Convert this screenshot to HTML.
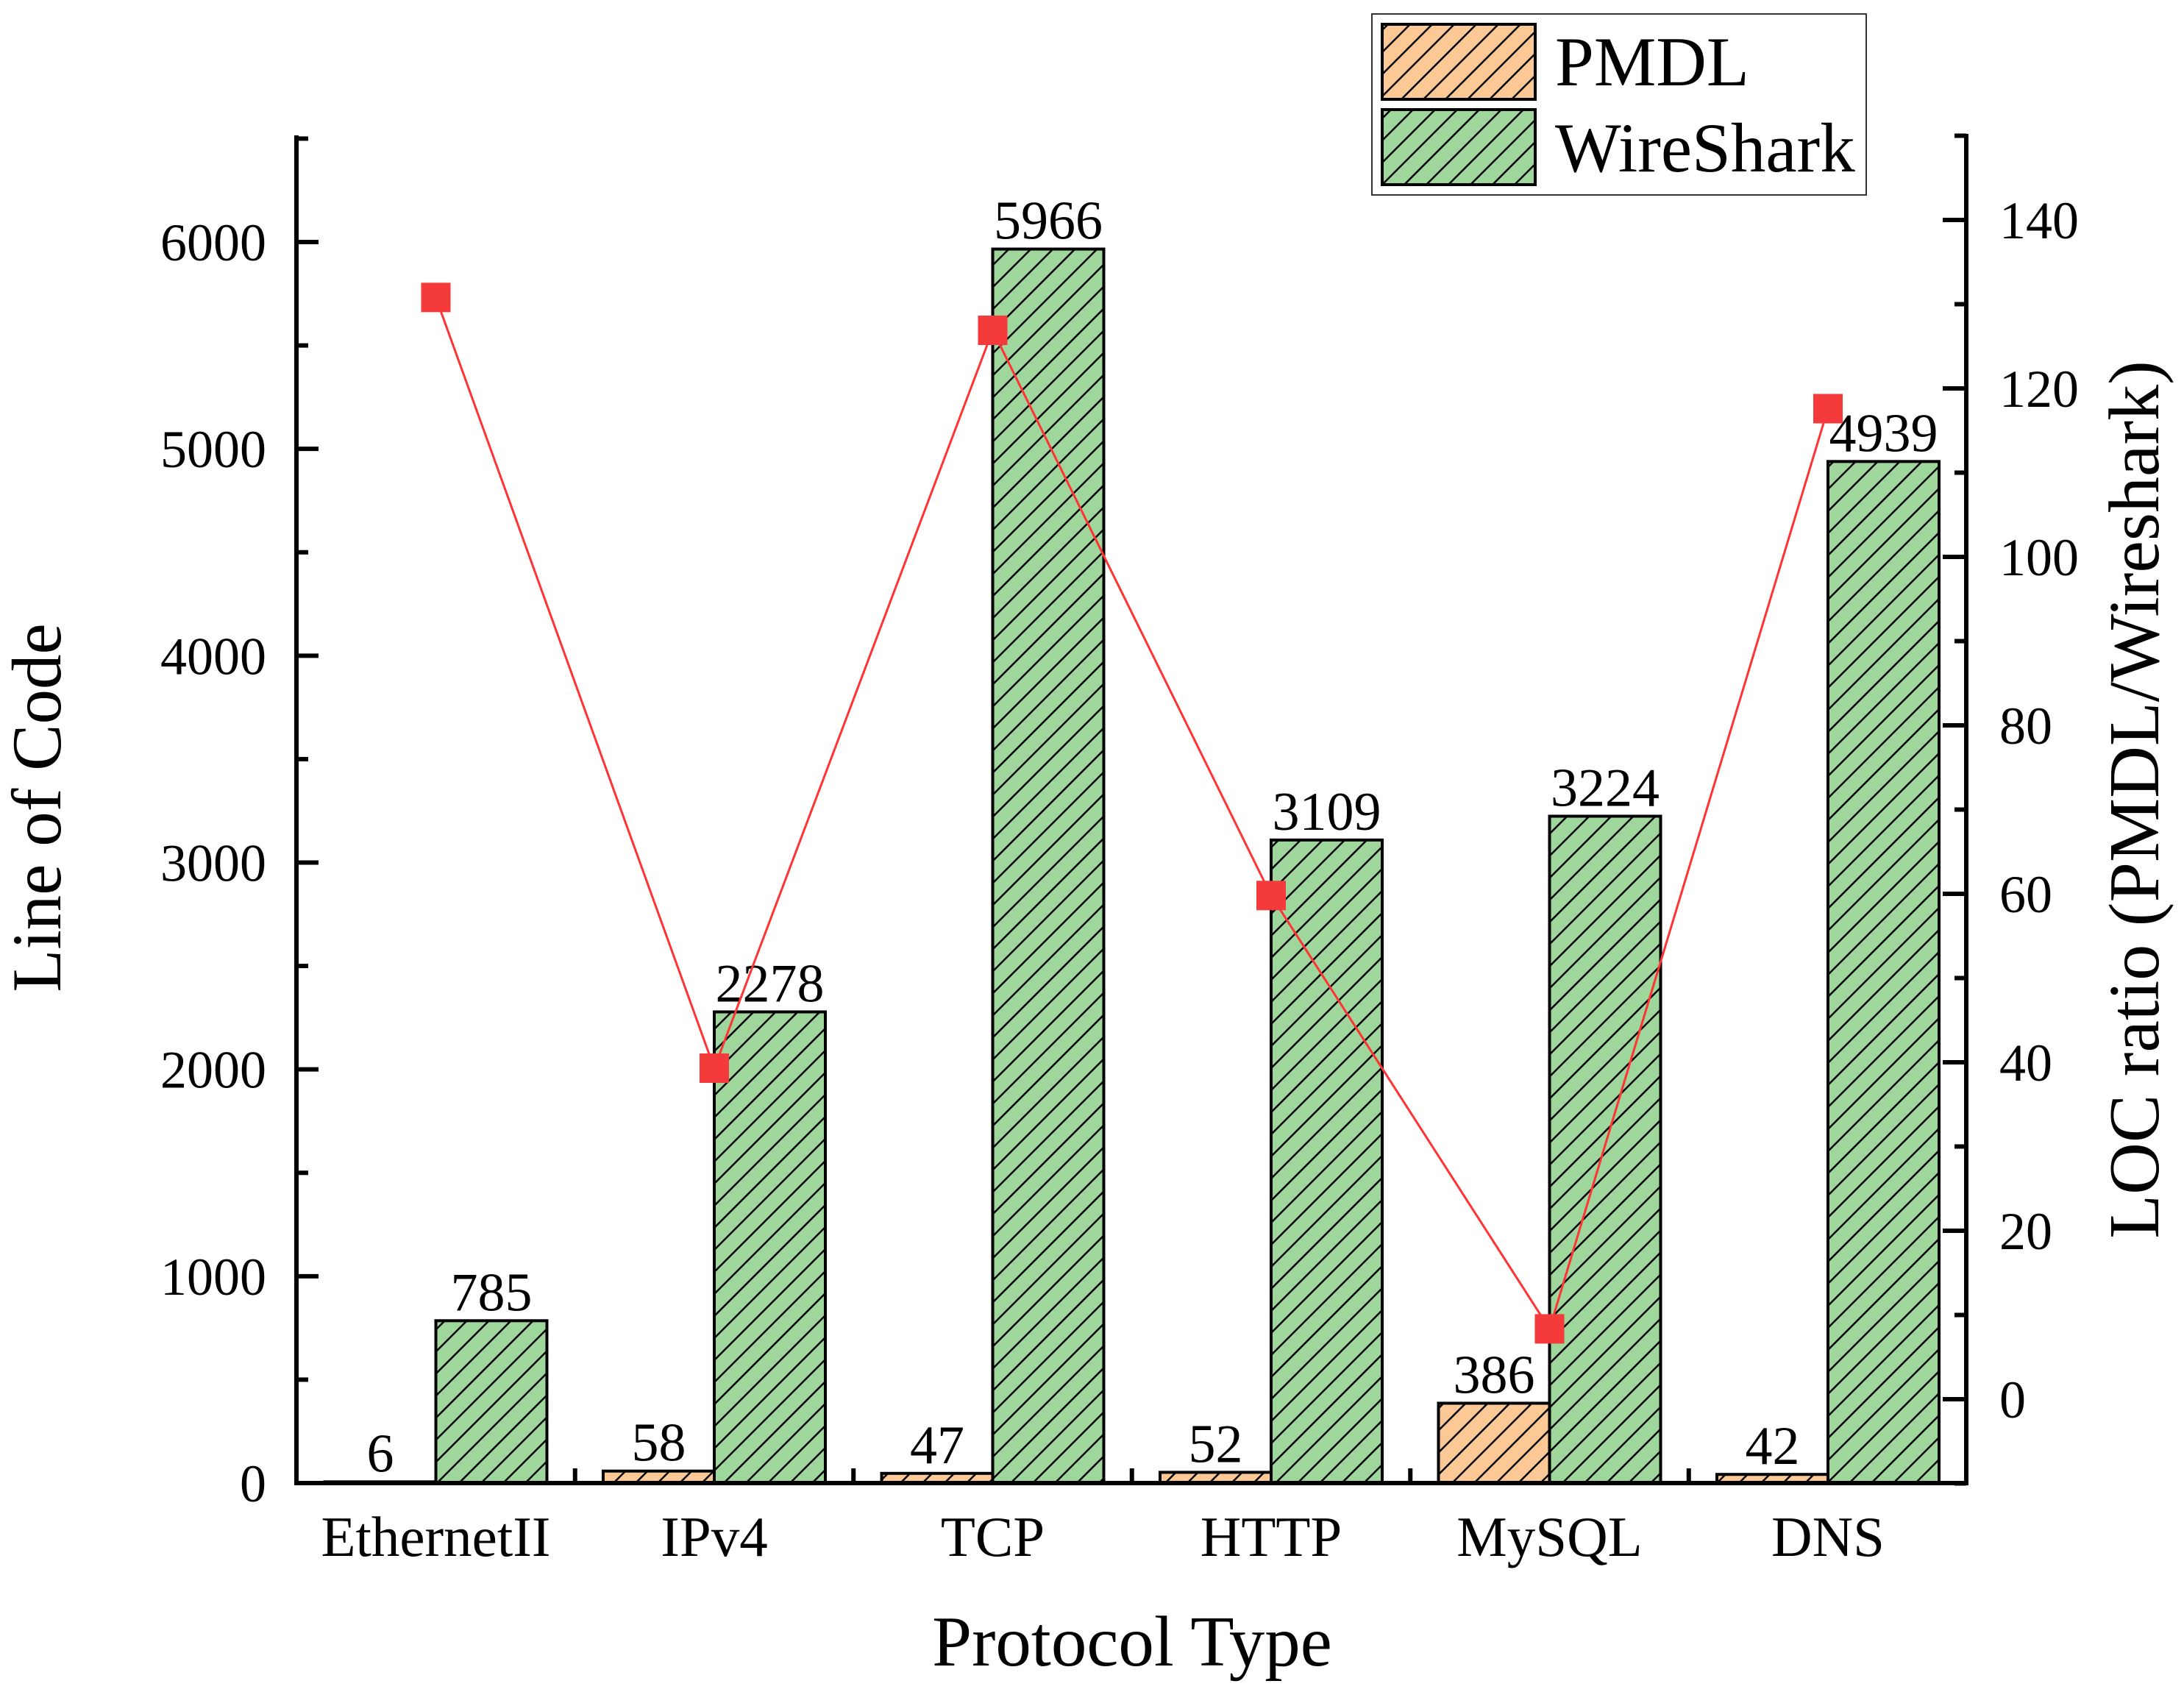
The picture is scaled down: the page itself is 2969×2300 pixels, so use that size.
<!DOCTYPE html>
<html><head><meta charset="utf-8"><style>
html,body{margin:0;padding:0;background:#fff;}
svg{display:block;font-family:"Liberation Serif",serif;}
</style></head><body>
<svg id="chart" width="2969" height="2300" viewBox="0 0 2969 2300" xmlns="http://www.w3.org/2000/svg">
<defs>
<pattern id="hatchO" patternUnits="userSpaceOnUse" width="30" height="30">
<rect width="30" height="30" fill="#FCC896"/>
<path d="M-8,38 L38,-8 M-23,23 L23,-23 M7,53 L53,7" stroke="#000" stroke-width="2.5"/>
</pattern>
<pattern id="hatchG" patternUnits="userSpaceOnUse" width="30" height="30">
<rect width="30" height="30" fill="#9ED69C"/>
<path d="M-8,38 L38,-8 M-23,23 L23,-23 M7,53 L53,7" stroke="#000" stroke-width="2.5"/>
</pattern>
</defs>
<g id="bars"></g>
<g id="line"></g>
<g id="axes"></g>
<text x="1539" y="2264" font-size="97" text-anchor="middle">Protocol Type</text>
<text transform="translate(82,1098) rotate(-90)" font-size="95" text-anchor="middle">Line of Code</text>
<text transform="translate(2934,1087) rotate(-90)" font-size="98" text-anchor="middle">LOC ratio (PMDL/Wireshark)</text>
<g>
<rect x="1865" y="19" width="672" height="246" fill="#fff" stroke="#333" stroke-width="2"/>
<rect x="1879" y="33" width="208" height="102" fill="url(#hatchO)" stroke="#000" stroke-width="4"/>
<rect x="1879" y="149" width="208" height="102" fill="url(#hatchG)" stroke="#000" stroke-width="4"/>
<text x="2114" y="116" font-size="95">PMDL</text>
<text x="2114" y="233" font-size="95">WireShark</text>
</g>
</svg>
<script>
const categories = ["EthernetII","IPv4","TCP","HTTP","MySQL","DNS"];
const pmdlValues = [6,58,47,52,386,42];
const wiresharkValues = [785,2278,5966,3109,3224,4939];
const ratioValues = [130.8,39.3,126.9,59.8,8.35,117.6];
const leftTicks = [0,1000,2000,3000,4000,5000,6000];
const rightTicks = [0,20,40,60,80,100,120,140];

const NS="http://www.w3.org/2000/svg";
const X0=403, X1=2673, Y0=2016, YTOP=184;
const catStart=592.5, catStep=378.5, barW=151;
function xC(i){return catStart+i*catStep;}
function yL(v){return Y0 - v*(Y0-329)/6000;}
function yR(v){return 1902 - v*(1902-299)/140;}
function mk(tag,attrs,parent){const e=document.createElementNS(NS,tag);for(const k in attrs)e.setAttribute(k,attrs[k]);parent.appendChild(e);return e;}

const bars=document.getElementById('bars');
categories.forEach((c,i)=>{
  const cx=xC(i);
  const yo=yL(pmdlValues[i]);
  const b1=mk('rect',{x:cx-barW,y:yo,width:barW,height:Y0-yo,fill:'url(#hatchO)',stroke:'#000','stroke-width':4},bars);
  
  
  const yg=yL(wiresharkValues[i]);
  const b2=mk('rect',{x:cx,y:yg,width:barW,height:Y0-yg,fill:'url(#hatchG)',stroke:'#000','stroke-width':4},bars);
  
  
  const t1=mk('text',{x:cx-barW/2,y:yo-14,'font-size':74,'text-anchor':'middle'},bars);
  t1.textContent=pmdlValues[i];
  
  
  const t2=mk('text',{x:cx+barW/2,y:yg-14,'font-size':74,'text-anchor':'middle'},bars);
  t2.textContent=wiresharkValues[i];
  
  
});

const line=document.getElementById('line');
const pts=ratioValues.map((v,i)=>xC(i)+','+yR(v)).join(' ');
const pl=mk('polyline',{points:pts,fill:'none',stroke:'#F33','stroke-width':3},line);


ratioValues.forEach((v,i)=>{
  const m=mk('rect',{x:xC(i)-20,y:yR(v)-20,width:40,height:40,fill:'#F43A3A'},line);
  
  
});

const ax=document.getElementById('axes');
const a1=mk('path',{d:`M${X0},${YTOP} V${Y0} H${X1} V${YTOP-2}`,fill:'none',stroke:'#000','stroke-width':6},ax);


for(let v=0;v<=6500;v+=500){
  const maj=v%1000===0;
  mk('line',{x1:X0,x2:X0+(maj?30:16),y1:yL(v),y2:yL(v),stroke:'#000','stroke-width':6},ax);
}
leftTicks.forEach(v=>{
  const t=mk('text',{x:362,y:yL(v)+25,'font-size':72,'text-anchor':'end'},ax);
  t.textContent=v;
  
  
});
for(let v=-10;v<=150;v+=10){
  const maj=v%20===0;
  mk('line',{x1:X1,x2:X1-(maj?32:16),y1:yR(v),y2:yR(v),stroke:'#000','stroke-width':6},ax);
}
rightTicks.forEach(v=>{
  const t=mk('text',{x:2718,y:yR(v)+25,'font-size':72},ax);
  t.textContent=v;
  
  
});
for(let i=0;i<categories.length-1;i++){
  const x=xC(i)+catStep/2;
  mk('line',{x1:x,x2:x,y1:Y0,y2:Y0-20,stroke:'#000','stroke-width':6},ax);
}
categories.forEach((c,i)=>{
  const t=mk('text',{x:xC(i),y:2115,'font-size':77,'text-anchor':'middle'},ax);
  t.textContent=c;
  
  
});
</script>
</body></html>
